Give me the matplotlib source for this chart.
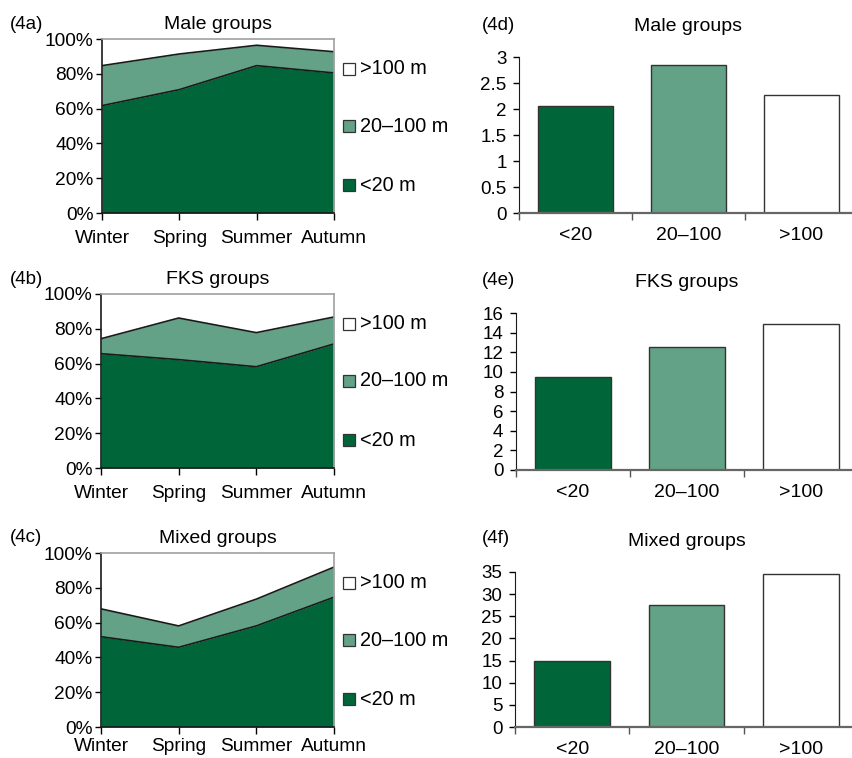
import matplotlib
matplotlib.use('Agg')
import matplotlib.pyplot as plt
from matplotlib.ticker import FuncFormatter

plt.rcParams['font.family'] = ['Liberation Sans', 'DejaVu Sans']

# --- dados ---
seasons = ['Winter', 'Spring', 'Summer', 'Autumn']
classes = ['<20', '20\u2013100', '>100']
legend_labels = ['>100 m', '20\u2013100 m', '<20 m']

# percentagem acumulada (<20 m) e (<20 m + 20-100 m) por estação
male_lt20 = [61.7, 70.9, 84.7, 80.5]
male_lt100 = [84.7, 91.4, 96.4, 92.7]
fks_lt20 = [65.7, 62.3, 58.2, 71.3]
fks_lt100 = [74.3, 86.2, 77.8, 86.8]
mixed_lt20 = [51.9, 45.8, 58.1, 74.6]
mixed_lt100 = [67.9, 58.1, 73.5, 91.9]

# distância média (m) por classe
male_bars = [2.05, 2.85, 2.27]
fks_bars = [9.5, 12.5, 14.9]
mixed_bars = [14.8, 27.6, 34.5]

DARK = '#00663a'
LIGHT = '#63a286'
W, H = 853, 758

fig = plt.figure(figsize=(W / 100, H / 100), dpi=100)


def box(left, top, right, bottom):
    return [left / W, 1 - bottom / H, (right - left) / W, (bottom - top) / H]


def area_panel(rect, lt20, lt100, title, tag, tag_y, xpad=7):
    ax = fig.add_axes(rect)
    x = range(len(seasons))
    ax.fill_between(x, 0, lt20, color=DARK, lw=0)
    ax.fill_between(x, lt20, lt100, color=LIGHT, lw=0)
    ax.plot(x, lt20, color='#1a1a1a', lw=1.2)
    ax.plot(x, lt100, color='#1a1a1a', lw=1.2)
    ax.set_xlim(0, 3)
    ax.set_ylim(0, 100)
    ax.set_xticks(list(x))
    ax.set_xticklabels(seasons, fontsize=13.8)
    ax.set_yticks(range(0, 101, 20))
    ax.yaxis.set_major_formatter(FuncFormatter(lambda v, p: f'{v:.0f}%'))
    ax.tick_params(axis='y', labelsize=13.8, length=4, width=1, pad=2)
    ax.tick_params(axis='x', length=5, width=1, pad=xpad)
    for s in ['top', 'right']:
        ax.spines[s].set_color('#a0a0a0')
        ax.spines[s].set_linewidth(1.2)
    for s in ['left', 'bottom']:
        ax.spines[s].set_color('#1a1a1a')
        ax.spines[s].set_linewidth(1.2)
    ax.set_title(title, fontsize=14, pad=7)
    fig.text(10 / W, 1 - tag_y / H, tag, fontsize=13.5, va='baseline')
    # legenda
    for lab, col, yy in zip(legend_labels, ['white', LIGHT, DARK], [0.83, 0.50, 0.16]):
        ax.plot([1.065], [yy], marker='s', ms=8, mfc=col, mec='#333333', mew=0.9,
                transform=ax.transAxes, clip_on=False)
        ax.text(1.11, yy, lab, transform=ax.transAxes, fontsize=14.3, va='center')
    return ax


def bar_panel(rect, vals, ymax, step, title, tag, tag_y):
    ax = fig.add_axes(rect)
    x = range(len(classes))
    ax.bar(x, vals, width=0.66, color=[DARK, LIGHT, 'white'], edgecolor='#333333', lw=1)
    ax.set_xlim(-0.5, 2.5)
    ax.set_ylim(0, ymax)
    ticks = [i * step for i in range(int(round(ymax / step)) + 1)]
    ax.set_yticks(ticks)
    ax.set_yticklabels([f'{t:g}' for t in ticks])
    ax.set_xticks(list(x))
    ax.set_xticklabels(classes, fontsize=14)
    ax.set_xticks([-0.5, 0.5, 1.5], minor=True)
    ax.tick_params(axis='x', which='major', length=0, pad=10)
    ax.tick_params(axis='x', which='minor', length=5, width=1, color='#555555')
    ax.tick_params(axis='y', labelsize=13.5, length=4, width=1, pad=5)
    ax.spines['top'].set_visible(False)
    ax.spines['right'].set_visible(False)
    ax.spines['left'].set_color('#1a1a1a')
    ax.spines['bottom'].set_color('#666666')
    ax.spines['bottom'].set_linewidth(1.6)
    ax.set_title(title, fontsize=14, pad=19)
    fig.text(482 / W, 1 - tag_y / H, tag, fontsize=13.5, va='baseline')
    return ax


area_panel(box(102, 39, 334, 213), male_lt20, male_lt100, 'Male groups', '(4a)', 29)
area_panel(box(101, 294, 334, 468), fks_lt20, fks_lt100, 'FKS groups', '(4b)', 284)
area_panel(box(101, 553, 334, 727), mixed_lt20, mixed_lt100, 'Mixed groups', '(4c)', 542, xpad=3)

bar_panel(box(519, 57, 858, 213), male_bars, 3, 0.5, 'Male groups', '(4d)', 30)
bar_panel(box(516, 313, 858, 470), fks_bars, 16, 2, 'FKS groups', '(4e)', 285)
bar_panel(box(515, 572, 858, 727), mixed_bars, 35, 5, 'Mixed groups', '(4f)', 543)

fig.savefig('out.png', dpi=100)
